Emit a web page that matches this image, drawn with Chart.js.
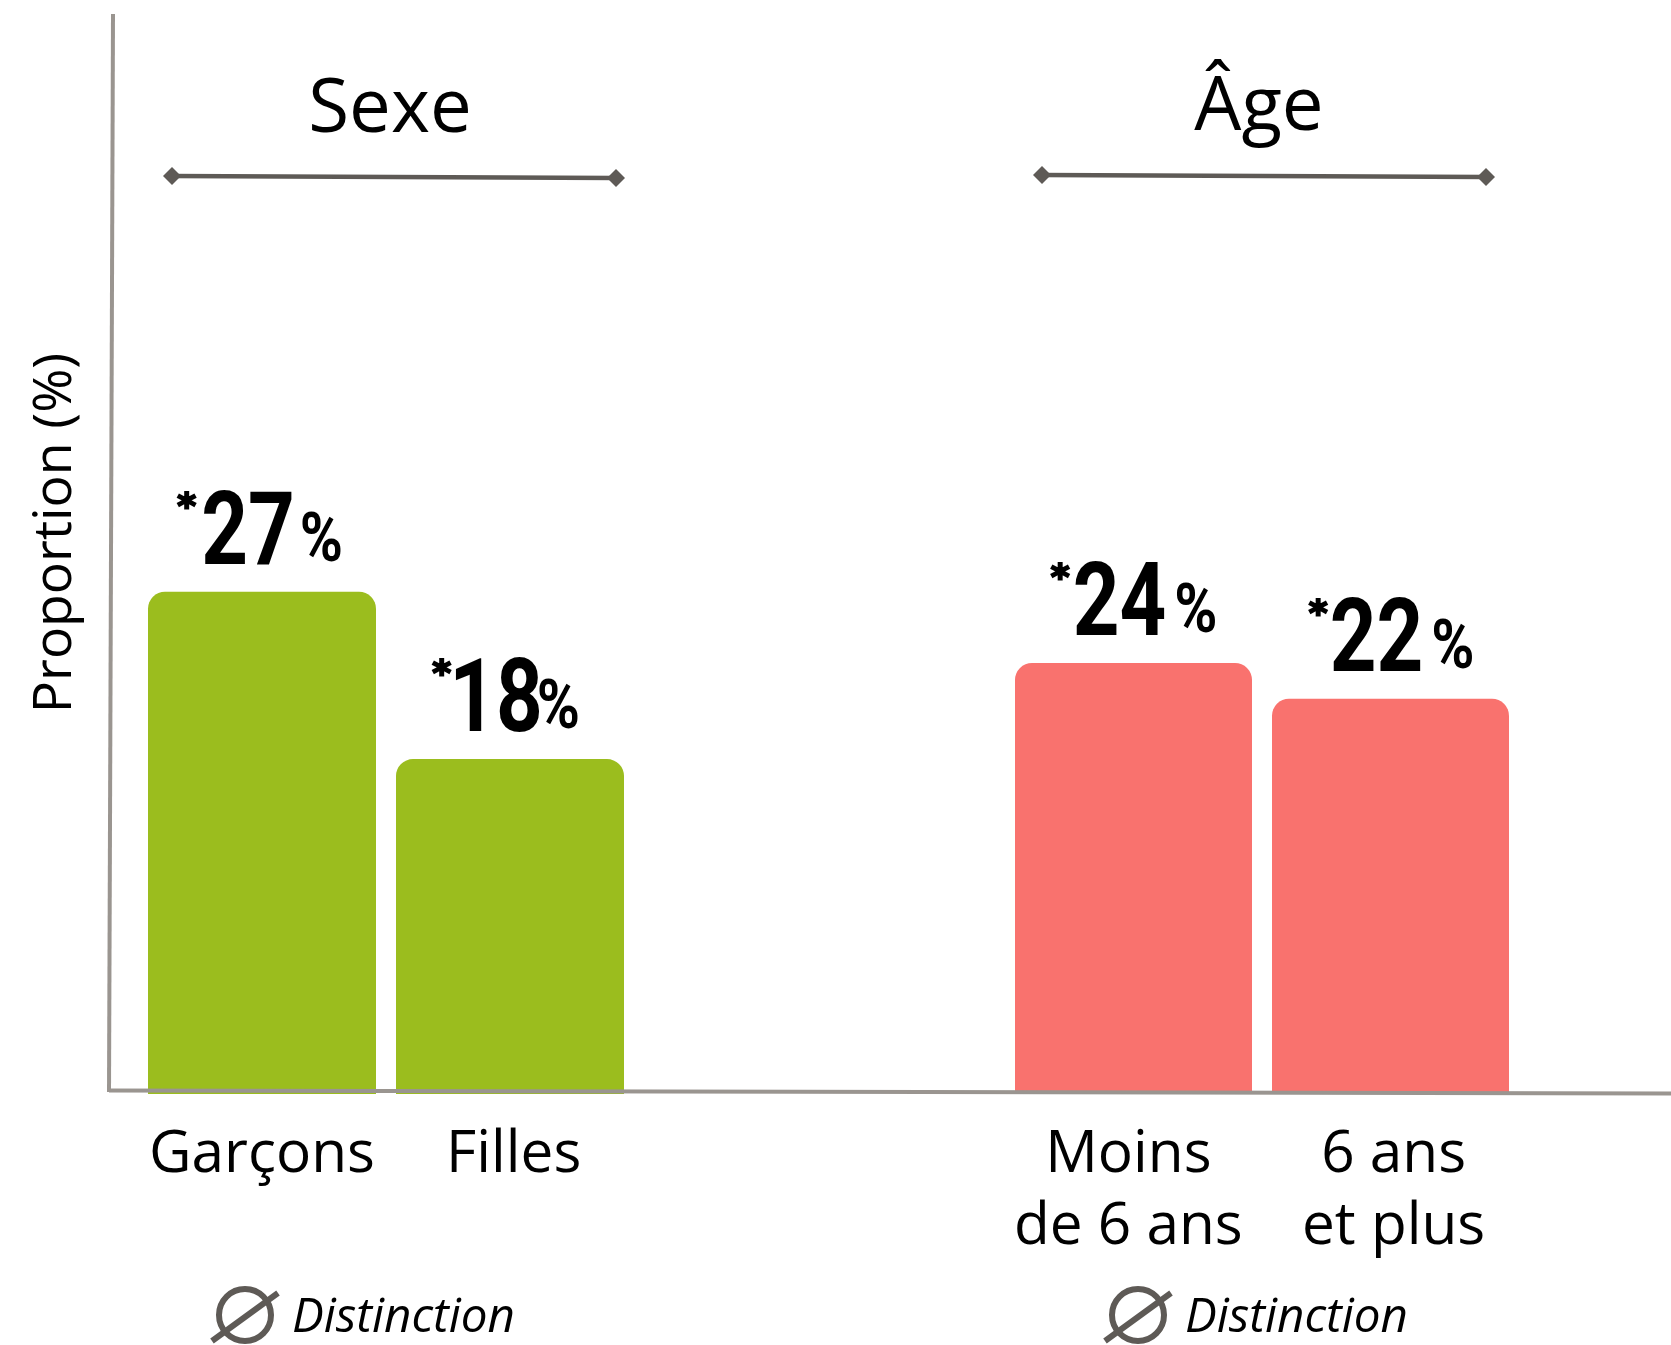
<!DOCTYPE html>
<html lang="fr">
<head>
<meta charset="utf-8">
<title>Proportion par sexe et par âge</title>
<script src="https://cdn.jsdelivr.net/npm/chart.js@4"></script>
<style>
  html, body { margin: 0; padding: 0; background: #fff; overflow: hidden; }
  canvas { position: absolute; top: 0; }
  #sexe { left: 0; }
  #age { left: 800px; }
</style>
</head>
<body>
<canvas id="sexe" width="800" height="1345"></canvas>
<canvas id="age" width="871" height="1345"></canvas>
<script>
// data
const sexeCategories = ['Garçons', 'Filles'];
const sexeValues = [27, 18];
const ageCategories = [['Moins', 'de 6 ans'], ['6 ans', 'et plus']];
const ageValues = [24, 22];
const yAxisTitle = 'Proportion (%)';
const distinctionLabel = 'Distinction';

const axisColor = '#9a9590';
const markColor = '#5e5a56';
const textFont = '"Open Sans"';
const valueFont = 'Roboto';

// the axis lines lean a little in the original
function axisY(pageX) {
    return 1090.5 + (pageX - 109) * 3 / 1562;
}

// Roboto squeezed to look like the narrow figures of the original
function squeezedText(ctx, txt, x, y, size, squeeze) {
    ctx.save();
    ctx.font = 'bold ' + size + 'px ' + valueFont;
    ctx.textAlign = 'left';
    ctx.translate(x, y);
    ctx.scale(squeeze, 1);
    ctx.fillText(txt, 0, 0);
    ctx.restore();
}

function squeezedWidth(ctx, txt, size, squeeze) {
    ctx.save();
    ctx.font = 'bold ' + size + 'px ' + valueFont;
    const w = ctx.measureText(txt).width * squeeze;
    ctx.restore();
    return w;
}

// value labels, group title, bracket and "distinction" sign of one panel
const panelDecor = {
    id: 'panelDecor',
    afterDatasetsDraw(chart, args, opts) {
        const ctx = chart.ctx;
        const pageLeft = opts.pageLeft;
        ctx.save();

        // x axis
        ctx.strokeStyle = axisColor;
        ctx.lineWidth = 4;
        ctx.beginPath();
        ctx.moveTo(Math.max(109, pageLeft) - pageLeft, axisY(Math.max(109, pageLeft)));
        ctx.lineTo(chart.width, axisY(pageLeft + chart.width));
        ctx.stroke();

        // y axis
        if (opts.yTitle) {
            ctx.beginPath();
            ctx.moveTo(113, 14);
            ctx.lineTo(109, 1092);
            ctx.stroke();

            ctx.save();
            ctx.translate(71, 533);
            ctx.rotate(-Math.PI / 2);
            ctx.fillStyle = '#000';
            ctx.font = '53.5px ' + textFont;
            ctx.textAlign = 'center';
            ctx.textBaseline = 'alphabetic';
            ctx.fillText(opts.yTitle, 0, 0);
            ctx.restore();
        }

        // values above the bars
        const bars = chart.getDatasetMeta(0).data;
        ctx.fillStyle = '#000';
        ctx.strokeStyle = '#000';
        ctx.textBaseline = 'alphabetic';
        bars.forEach((bar, i) => {
            const cx = bar.x - 14;
            const base = bar.y - 28;
            const txt = String(chart.data.datasets[0].data[i]);
            const w = squeezedWidth(ctx, txt, 102, 0.8);
            squeezedText(ctx, txt, cx - w / 2, base, 102, 0.8);
            squeezedText(ctx, '%', cx + w / 2 + opts.percentGap[i], base - 3, 68, 0.86);
            // a little stroke to thicken the star
            ctx.font = 'bold 36px "DejaVu Sans"';
            ctx.textAlign = 'right';
            ctx.lineWidth = 2;
            ctx.fillText('*', cx - w / 2 - opts.starGap[i], base - 46);
            ctx.strokeText('*', cx - w / 2 - opts.starGap[i], base - 46);
        });

        // group title
        ctx.fillStyle = '#000';
        ctx.font = '74.5px ' + textFont;
        ctx.textAlign = 'center';
        ctx.fillText(opts.title, opts.titleX, opts.titleY);

        // bracket
        const [x1, y1, x2, y2] = opts.bracket;
        ctx.strokeStyle = markColor;
        ctx.fillStyle = markColor;
        ctx.lineWidth = 4.5;
        ctx.beginPath();
        ctx.moveTo(x1, y1);
        ctx.lineTo(x2, y2);
        ctx.stroke();
        [[x1, y1], [x2, y2]].forEach(([x, y]) => {
            ctx.beginPath();
            ctx.moveTo(x - 9, y);
            ctx.lineTo(x, y - 9);
            ctx.lineTo(x + 9, y);
            ctx.lineTo(x, y + 9);
            ctx.closePath();
            ctx.fill();
        });

        // no distinction sign
        const sx = opts.signX;
        const sy = 1315;
        ctx.lineWidth = 6;
        ctx.beginPath();
        ctx.arc(sx, sy, 26, 0, Math.PI * 2);
        ctx.stroke();
        ctx.beginPath();
        ctx.moveTo(sx - 33, sy + 26);
        ctx.lineTo(sx + 33, sy - 22);
        ctx.stroke();
        ctx.fillStyle = '#000';
        ctx.font = 'italic 47.6px ' + textFont;
        ctx.textAlign = 'left';
        ctx.fillText(distinctionLabel, sx + 47, 1332);

        ctx.restore();
    }
};

function makePanel(id, labels, values, color, yMax, padding, xHeight, barFrac, tickPad, tickNudge, decor) {
    return new Chart(document.getElementById(id).getContext('2d'), {
        type: 'bar',
        data: {
            labels: labels,
            datasets: [{
                data: values,
                backgroundColor: color,
                categoryPercentage: 1,
                barPercentage: barFrac,
                borderRadius: { topLeft: 17, topRight: 17, bottomLeft: 0, bottomRight: 0 },
                borderSkipped: false
            }]
        },
        options: {
            responsive: false,
            animation: false,
            layout: { padding: padding },
            plugins: {
                legend: { display: false },
                tooltip: { enabled: false },
                panelDecor: decor
            },
            scales: {
                x: {
                    afterFit: scale => { scale.height = xHeight; },
                    // labels sit a few pixels off the bar centres in the original
                    afterBuildTicks: scale => {
                        scale.ticks.forEach((t, i) => { t.value += tickNudge[i]; });
                    },
                    grid: { display: false, drawTicks: false },
                    border: { display: false },
                    ticks: {
                        color: '#000',
                        padding: tickPad,
                        maxRotation: 0,
                        autoSkip: false,
                        callback: (v, i) => labels[i],
                        font: { family: 'Open Sans', size: 58.5, lineHeight: 1.24 }
                    }
                },
                y: { display: false, min: 0, max: yMax }
            }
        },
        plugins: [panelDecor]
    });
}

Promise.all([
    document.fonts.load('60px "Open Sans"'),
    document.fonts.load('italic 46px "Open Sans"'),
    document.fonts.load('bold 104px Roboto'),
    document.fonts.load('bold 36px "DejaVu Sans"')
]).finally(() => {
    makePanel('sexe', sexeCategories, sexeValues, '#9bbd1e', 58.05,
        { left: 138, right: 166, top: 14, bottom: 0 }, 251, 228 / 248, 25, [0, 0.015], {
            pageLeft: 0,
            yTitle: yAxisTitle,
            title: 'Sexe',
            titleX: 390,
            titleY: 132,
            bracket: [172, 176, 616, 178],
            signX: 245,
            percentGap: [5, -6],
            starGap: [5, -2]
        });
    makePanel('age', ageCategories, ageValues, '#f9726e', 60.3,
        { left: 205, right: 152, top: 14, bottom: 0 }, 253, 237 / 257, 27, [-0.02, 0.012], {
            pageLeft: 800,
            title: 'Âge',
            titleX: 459,
            titleY: 130,
            bracket: [242, 175, 686, 177],
            signX: 338,
            percentGap: [8, 8],
            starGap: [3, 2]
        });
});
</script>
</body>
</html>
